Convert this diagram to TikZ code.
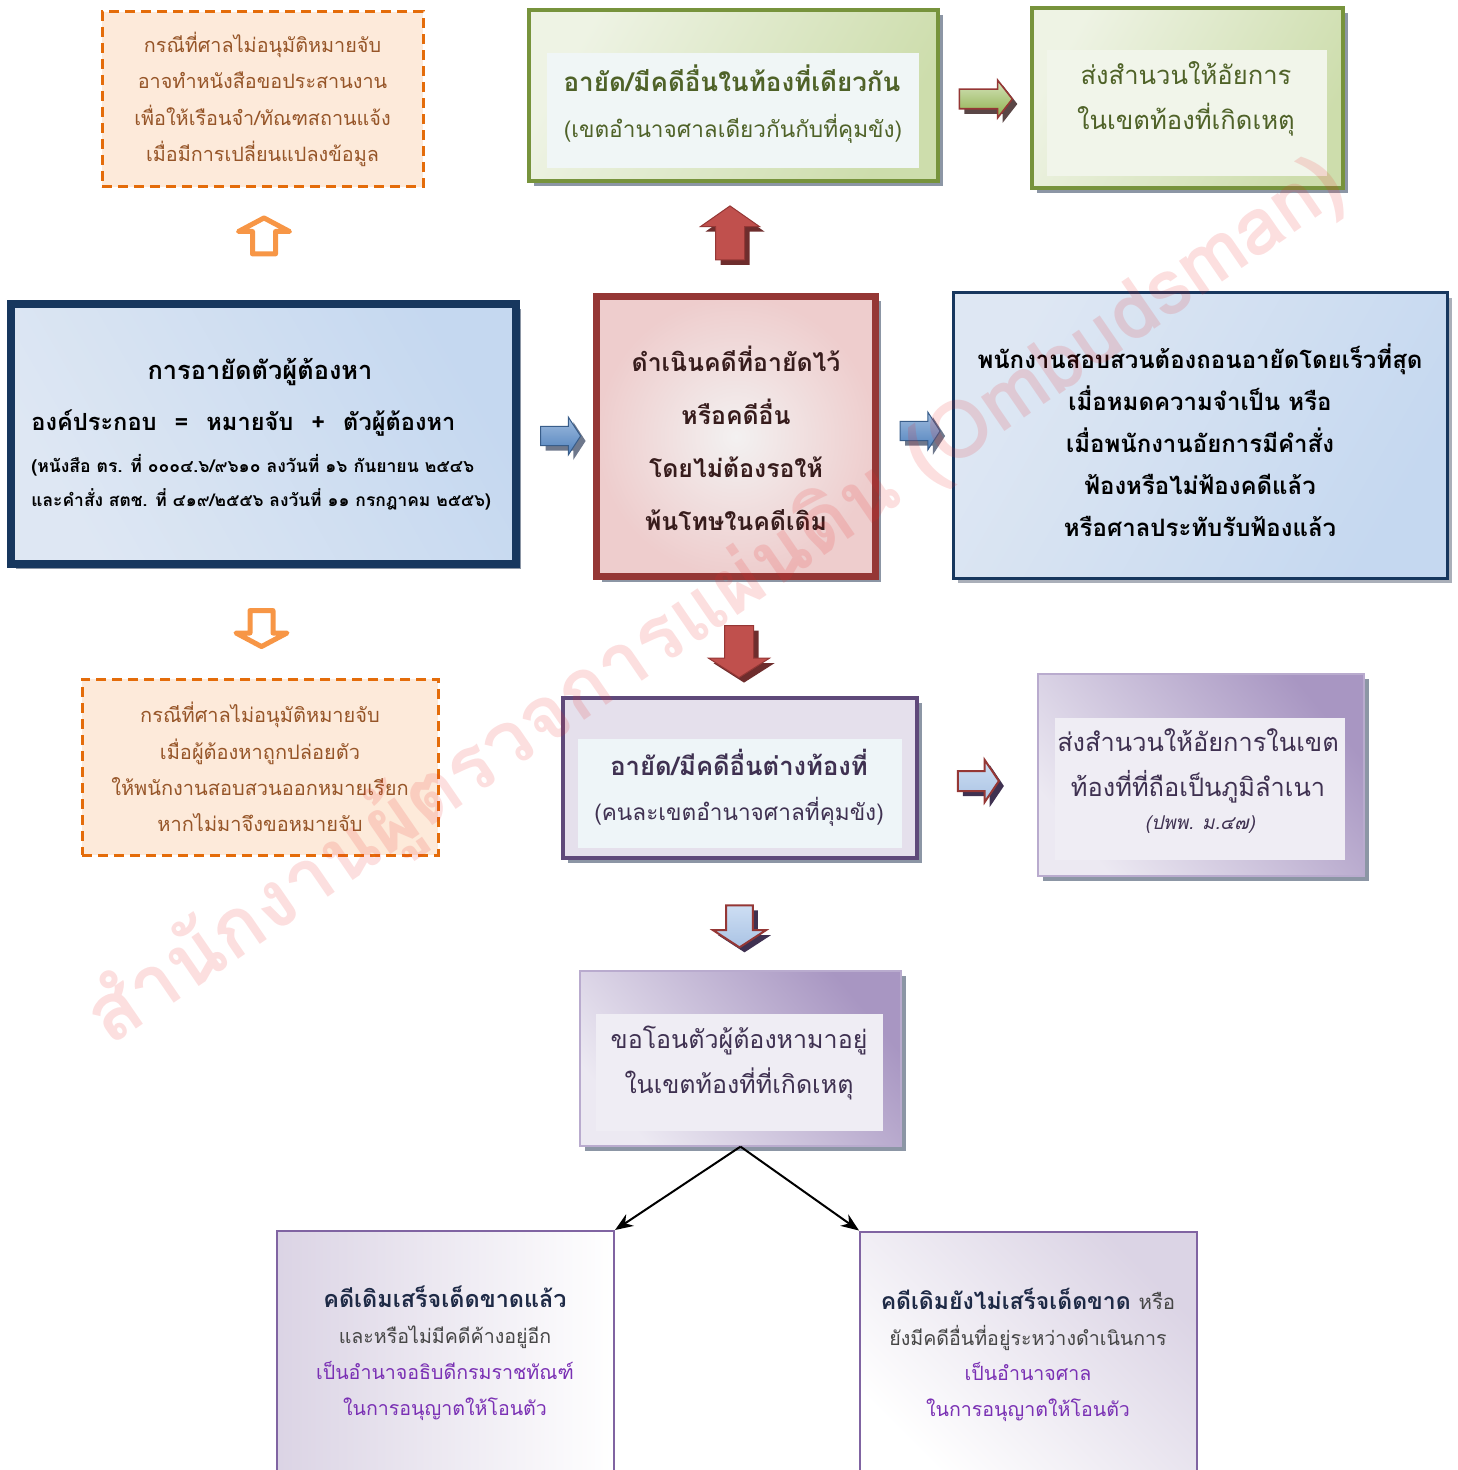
\documentclass[tikz,border=0pt]{standalone}
\usepackage{fontspec}
\setmainfont[Script=Thai]{Loma}
\usetikzlibrary{shapes.arrows,shadows,arrows.meta}
\definecolor{orBorder}{RGB}{228,108,10}
\definecolor{orFill}{RGB}{253,234,218}
\definecolor{orText}{RGB}{150,85,40}
\definecolor{orArrow}{RGB}{247,150,70}
\definecolor{grBorder}{RGB}{119,147,60}
\definecolor{grFillA}{RGB}{205,221,172}
\definecolor{grFillB}{RGB}{238,243,228}
\definecolor{grInnerA}{RGB}{240,246,246}
\definecolor{grInnerB}{RGB}{241,245,234}
\definecolor{grText}{RGB}{79,98,40}
\definecolor{navy}{RGB}{23,55,94}
\definecolor{bluA}{RGB}{197,216,240}
\definecolor{bluB}{RGB}{222,231,243}
\definecolor{rdBorder}{RGB}{149,55,53}
\definecolor{rdFill}{RGB}{238,205,205}
\definecolor{rdCenter}{RGB}{243,241,241}
\definecolor{rdText}{RGB}{55,28,28}
\definecolor{puBorder}{RGB}{95,73,122}
\definecolor{lav}{RGB}{229,224,236}
\definecolor{lavDark}{RGB}{168,150,194}
\definecolor{lavLight}{RGB}{236,233,242}
\definecolor{puInner}{RGB}{238,245,248}
\definecolor{puInnerB}{RGB}{239,237,244}
\definecolor{puText}{RGB}{63,49,81}
\definecolor{btBorder}{RGB}{128,100,162}
\definecolor{btTitle}{RGB}{30,42,70}
\definecolor{btGray}{RGB}{70,70,70}
\definecolor{btViolet}{RGB}{122,48,180}
\definecolor{shGray}{RGB}{140,150,165}
\definecolor{shLight}{RGB}{170,175,185}
\definecolor{shRed}{RGB}{110,45,45}
\definecolor{shBlue}{RGB}{110,120,140}
\definecolor{shBrown}{RGB}{90,70,70}
\definecolor{arRedA}{RGB}{192,80,77}
\definecolor{arRedB}{RGB}{232,160,158}
\definecolor{arBlueA}{RGB}{79,129,189}
\definecolor{arBlueB}{RGB}{160,188,222}
\definecolor{arBlueD}{RGB}{56,93,138}
\definecolor{arLight}{RGB}{205,222,243}
\definecolor{arLightB}{RGB}{170,195,228}
\definecolor{arGreenA}{RGB}{140,175,75}
\definecolor{arGreenB}{RGB}{215,228,189}
\definecolor{wmRed}{RGB}{235,40,40}
\newcommand{\fsz}[2]{\fontsize{#1}{#2}\selectfont}
\tikzset{
  shad/.style={drop shadow={shadow xshift=2.5pt,shadow yshift=-2.5pt,fill=#1,opacity=1}},
  shad/.default=shGray,
  dashbox/.style={draw=orBorder,line width=1.5pt,dash pattern=on 5pt off 3pt,fill=orFill,
    inner sep=0pt,text=orText,align=center,font=\fsz{9.9}{18.2}},
  greenbox/.style={draw=grBorder,line width=2pt,shad,left color=grFillB,right color=grFillA,
    shading angle=60,inner sep=0pt},
  innerbox/.style={fill=#1,inner sep=0pt},
  txt/.style={inner sep=0pt,align=center},
  barrow/.style n args={4}{single arrow,minimum height=#1,inner sep=#2,
    single arrow head extend=#3,single arrow tip angle=#4,minimum width=0pt,outer sep=0pt},
  hollowarrow/.style={draw=orArrow,fill=white,line width=2.5pt,line join=round},
  redarrow/.style={draw=rdBorder,line width=0.5pt,left color=arRedA,middle color=arRedB,
    right color=arRedA,shad=shRed},
  bluearrow/.style={draw=arBlueD,line width=0.5pt,top color=arBlueB,bottom color=arBlueA,
    shad=shBlue},
  lightarrow/.style={draw=rdBorder,line width=1pt,top color=arLight,bottom color=arLightB,
    shad=puText},
  purplebox/.style={draw=lavDark!80!white,line width=0.6pt,shad,top color=lavDark,
    bottom color=lavLight,shading angle=-50,inner sep=0pt},
  bottombox/.style={draw=btBorder,line width=1pt,inner sep=0pt},
  conn/.style={line width=1pt,-{Stealth[length=9pt,width=7pt]}}
}
\begin{document}
\begin{tikzpicture}[x=0.5pt,y=-0.5pt]
\useasboundingbox (0,0) rectangle (1457,1470);

% ---------- top-left dashed box
\node[dashbox,minimum width=160.5pt,minimum height=87.5pt] (n1) at (262.5,99.5)
  {กรณีที่ศาลไม่อนุมัติหมายจับ\\อาจทำหนังสือขอประสานงาน\\เพื่อให้เรือนจำ/ทัณฑสถานแจ้ง\\เมื่อมีการเปลี่ยนแปลงข้อมูล};

% ---------- top-middle green box
\node[greenbox,minimum width=204.5pt,minimum height=85.5pt] (n2) at (733.5,95.5) {};
\node[innerbox=grInnerA,minimum width=186pt,minimum height=57.5pt] (n2i) at (733,110.5) {};
\node[txt,text=grText,font=\fsz{13}{15}\bfseries] (t2a) at (732,78) {อายัด/มีคดีอื่นในท้องที่เดียวกัน};
\node[txt,text=grText,font=\fsz{11.3}{15}] (t2b) at (733,129) {(เขตอำนาจศาลเดียวกันกับที่คุมขัง)};

% ---------- top-right green box
\node[greenbox,minimum width=155.5pt,minimum height=90pt] (n3) at (1187.5,98) {};
\node[innerbox=grInnerB,minimum width=140pt,minimum height=63pt] (n3i) at (1187,113) {};
\node[txt,text=grText,font=\fsz{12.8}{22.5}] (t3) at (1186,98.5) {ส่งสำนวนให้อัยการ\\ในเขตท้องที่เกิดเหตุ};

% ---------- left blue box
\node[draw=navy,line width=4pt,shad,left color=bluB,right color=bluA,
  shading angle=120,minimum width=252.5pt,minimum height=130pt,inner sep=0pt] (n4) at (263.5,434) {};
\node[txt,font=\fsz{12.7}{15}\bfseries] (t4a) at (260,372) {การอายัดตัวผู้ต้องหา};
\node[txt,anchor=west,font=\fsz{11.8}{15}\bfseries] (t4b) at (31,423)
  {องค์ประกอบ\hspace{9pt}=\hspace{9pt}หมายจับ\hspace{9pt}+\hspace{9pt}ตัวผู้ต้องหา};
\node[txt,anchor=west,font=\fsz{8.8}{12}\bfseries] (t4c) at (31,465)
  {(หนังสือ ตร. ที่ ๐๐๐๔.๖/๙๖๑๐ ลงวันที่ ๑๖ กันยายน ๒๕๔๖};
\node[txt,anchor=west,font=\fsz{8.7}{12}\bfseries] (t4d) at (31,499)
  {และคำสั่ง สตช. ที่ ๔๑๙/๒๕๕๖ ลงวันที่ ๑๑ กรกฎาคม ๒๕๕๖)};

% ---------- centre red box
\node[draw=rdBorder,line width=3.5pt,shad,inner color=rdCenter,outer color=rdFill,
  minimum width=139.5pt,minimum height=140pt,inner sep=0pt] (n5) at (736,436.5) {};
\node[txt,text=rdText,font=\fsz{12.4}{26.5}\bfseries] (t5) at (736,438.5)
  {ดำเนินคดีที่อายัดไว้\\หรือคดีอื่น\\โดยไม่ต้องรอให้\\พ้นโทษในคดีเดิม};

% ---------- right blue box
\node[draw=navy,line width=1.5pt,shad=shLight,left color=bluB,right color=bluA,
  shading angle=60,minimum width=247pt,minimum height=142.5pt,inner sep=0pt] (n6) at (1200,435.5) {};
\node[txt,font=\fsz{12}{21}\bfseries] (t6) at (1200,440)
  {พนักงานสอบสวนต้องถอนอายัดโดยเร็วที่สุด\\เมื่อหมดความจำเป็น หรือ\\เมื่อพนักงานอัยการมีคำสั่ง\\ฟ้องหรือไม่ฟ้องคดีแล้ว\\หรือศาลประทับรับฟ้องแล้ว};

% ---------- bottom-left dashed box
\node[dashbox,font=\fsz{10}{18.2},minimum width=178pt,minimum height=88pt] (n7) at (260,767)
  {กรณีที่ศาลไม่อนุมัติหมายจับ\\เมื่อผู้ต้องหาถูกปล่อยตัว\\ให้พนักงานสอบสวนออกหมายเรียก\\หากไม่มาจึงขอหมายจับ};

% ---------- purple middle box
\node[draw=puBorder,line width=2pt,shad,fill=lav,minimum width=177pt,minimum height=80pt,inner sep=0pt] (n8) at (740,778) {};
\node[innerbox=puInner,minimum width=162pt,minimum height=54.5pt] (n8i) at (740,793.5) {};
\node[txt,text=puText,font=\fsz{12.8}{15}\bfseries] (t8a) at (739,762) {อายัด/มีคดีอื่นต่างท้องที่};
\node[txt,text=puText,font=\fsz{11.3}{15}] (t8b) at (739,812) {(คนละเขตอำนาจศาลที่คุมขัง)};

% ---------- purple right box
\node[purplebox,minimum width=163pt,minimum height=101pt] (n9) at (1201,775) {};
\node[innerbox=puInnerB,minimum width=145pt,minimum height=71pt] (n9i) at (1200,789) {};
\node[txt,text=puText,font=\fsz{12.7}{22.5}] (t9) at (1198,765.5) {ส่งสำนวนให้อัยการในเขต\\ท้องที่ที่ถือเป็นภูมิลำเนา};
\node[txt,text=puText,font=\fsz{9.5}{12}\itshape] (t9b) at (1200,825) {(ปพพ. ม.๔๗)};

% ---------- transfer box
\node[purplebox,minimum width=160.5pt,minimum height=87.5pt] (n10) at (740.5,1058.5) {};
\node[innerbox=puInnerB,minimum width=143.5pt,minimum height=58.5pt] (n10i) at (739.5,1072.5) {};
\node[txt,text=puText,font=\fsz{12.5}{22.5}] (t10) at (739,1062.5) {ขอโอนตัวผู้ต้องหามาอยู่\\ในเขตท้องที่ที่เกิดเหตุ};

% ---------- bottom boxes
\node[bottombox,left color=lav!90!btBorder,right color=white,minimum width=168.5pt,minimum height=124.5pt] (n11) at (445.5,1355.5) {};
\node[txt,text=btTitle,font=\fsz{11.7}{15}\bfseries] (t11a) at (445,1297) {คดีเดิมเสร็จเด็ดขาดแล้ว};
\node[txt,text=btGray,font=\fsz{9.8}{15}] (t11b) at (445,1337) {และหรือไม่มีคดีค้างอยู่อีก};
\node[txt,text=btViolet,font=\fsz{9.8}{18}] (t11c) at (445,1391) {เป็นอำนาจอธิบดีกรมราชทัณฑ์\\ในการอนุญาตให้โอนตัว};

\node[bottombox,top color=lav!90!btBorder,bottom color=white,shading angle=-45,minimum width=168.5pt,minimum height=124.5pt] (n12) at (1028.5,1356) {};
\node[txt,text=btTitle,font=\fsz{11.5}{15}] (t12a) at (1028,1299) {\textbf{คดีเดิมยังไม่เสร็จเด็ดขาด} {\fsz{10.2}{15}\color{btGray}หรือ}};
\node[txt,text=btGray,font=\fsz{9.8}{15}] (t12b) at (1028,1338) {ยังมีคดีอื่นที่อยู่ระหว่างดำเนินการ};
\node[txt,text=btViolet,font=\fsz{9.8}{18}] (t12c) at (1028,1392) {เป็นอำนาจศาล\\ในการอนุญาตให้โอนตัว};

% ---------- block arrows
\node[barrow={26.5pt}{4.5pt}{4.5pt}{104},draw=rdBorder,line width=0.8pt,top color=arGreenB,bottom color=arGreenA,
  shad=shBrown] (a23) at (982,99) {};
\node[barrow={18pt}{4.5pt}{7pt}{124},hollowarrow,shape border rotate=90] (a41) at (264,239) {};
\node[barrow={18pt}{4.5pt}{7pt}{124},hollowarrow,shape border rotate=270] (a47) at (261.5,625.5) {};
\node[barrow={27pt}{7pt}{7.5pt}{110},redarrow,shape border rotate=90] (a52) at (730,238) {};
\node[barrow={26pt}{7pt}{8pt}{115},redarrow,shape border rotate=270] (a58) at (739,647) {};
\node[barrow={20pt}{4.5pt}{4.75pt}{114},bluearrow] (a45) at (557.5,436) {};
\node[barrow={20pt}{4.5pt}{4.75pt}{114},bluearrow] (a56) at (917,431) {};
\node[barrow={20.5pt}{4.5pt}{5.5pt}{112},lightarrow] (a89) at (975,781) {};
\node[barrow={21pt}{6.2pt}{6.5pt}{114},lightarrow,shape border rotate=270] (a810) at (739.5,922) {};

% ---------- connectors
\draw[conn] (n10.south) -- (n11.north east);
\draw[conn] (n10.south) -- (n12.north west);

% ---------- watermark
\node[rotate=34.5,text=wmRed,text opacity=0.15,font=\fsz{40}{42}\bfseries] (wm) at (716,602)
  {สำนักงานผู้ตรวจการแผ่นดิน (Ombudsman)};
\end{tikzpicture}
\end{document}
